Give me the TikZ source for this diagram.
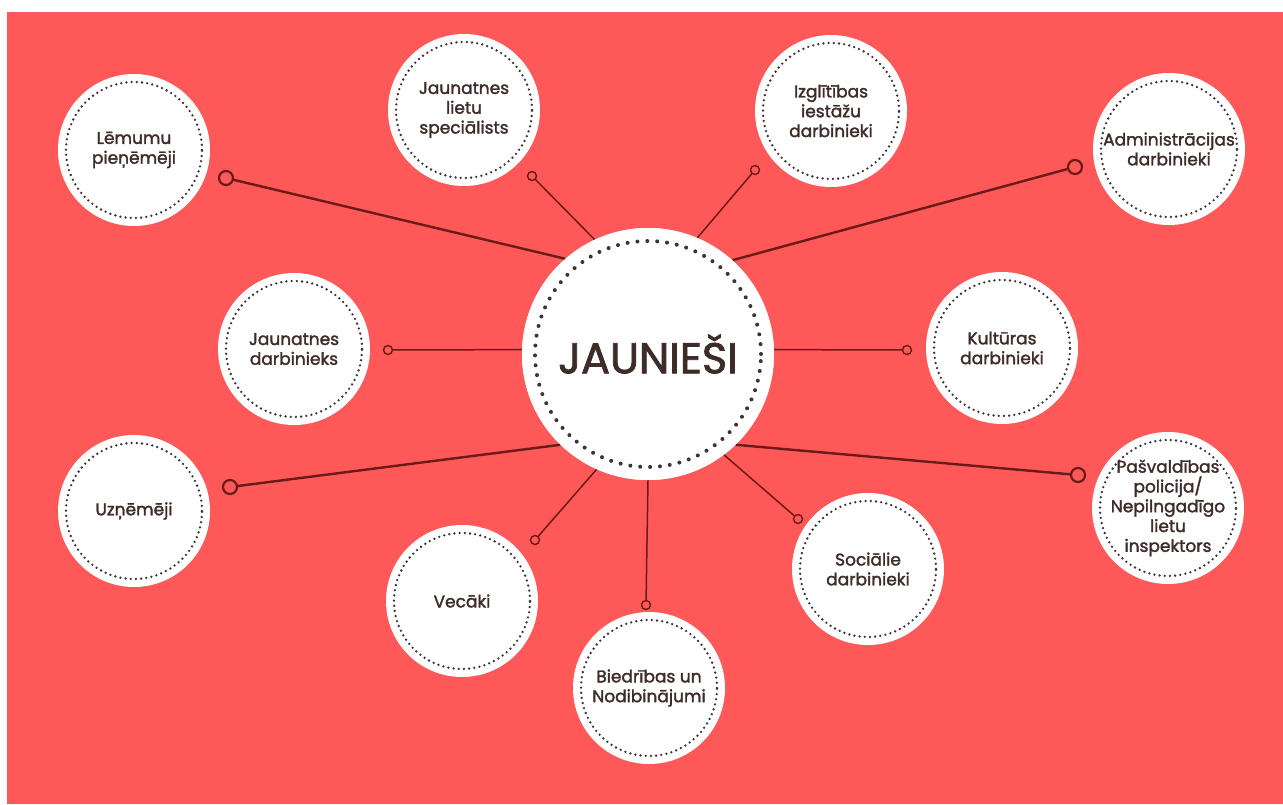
\documentclass[tikz,border=0pt]{standalone}
\usepackage{fontspec}
\newfontfamily\lbl{Poppins}[FakeBold=1.8]
\definecolor{bg}{HTML}{FF5858}
\definecolor{ln}{HTML}{6A1A18}
\definecolor{tx}{HTML}{3E2C28}
\definecolor{dotc}{HTML}{3A3434}
\tikzset{
  sat/.style={circle, fill=white, minimum size=152pt, inner sep=0pt, align=center,
    font=\lbl\fontsize{17}{19.8}\selectfont, text=tx},
  hub/.style={circle, fill=white, minimum size=252pt, inner sep=0pt,
    font=\lbl\fontsize{43}{46}\selectfont, text=tx},
  satdots/.style={dotc, line width=2.6pt, line cap=round, dash pattern=on 0pt off 5.2pt},
  hubdots/.style={dotc, line width=4pt, line cap=round, dash pattern=on 0pt off 9.9pt},
  conn/.style={draw=ln, line width=2.4pt},
  connthin/.style={draw=ln, line width=1.5pt},
  bigring/.style={circle, draw=ln, fill=bg, line width=2.2pt, minimum size=14pt, inner sep=0pt},
  smallring/.style={circle, draw=ln, fill=bg, line width=1.4pt, minimum size=9pt, inner sep=0pt},
}
\begin{document}
\begin{tikzpicture}[x=1pt,y=-1pt]
\useasboundingbox (0,0) rectangle (1283,804);
\fill[white] (0,0) rectangle (1283,804);
\fill[bg] (7,12) rectangle (1283,804);

% hub
\node[hub] (c) at (648,354) {};

% rings
\node[bigring] (r1) at (226,178) {};
\node[smallring] (r2) at (532,176) {};
\node[smallring] (r3) at (755,170) {};
\node[bigring] (r4) at (1075,167) {};
\node[smallring] (r5) at (388,350) {};
\node[smallring] (r6) at (907,350) {};
\node[bigring] (r7) at (230,487) {};
\node[smallring] (r8) at (535,540) {};
\node[smallring] (r9) at (646,605) {};
\node[smallring] (r10) at (798,519) {};
\node[bigring] (r11) at (1078,475) {};

% connectors
\draw[conn] (c.131.6) -- (r1);
\draw[connthin] (c.115) -- (r2);
\draw[connthin] (c.67) -- (r3);
\draw[conn] (c.48.4) -- (r4);
\draw[connthin] (c.178) -- (r5);
\draw[connthin] (c.2) -- (r6);
\draw[conn] (c.226.9) -- (r7);
\draw[connthin] (c.246) -- (r8);
\draw[connthin] (c.270) -- (r9);
\draw[connthin] (c.307) -- (r10);
\draw[conn] (c.314) -- (r11);

\node[hub] (hubtop) at (c) {JAUNIEŠI};
\draw[hubdots] (c) circle (113pt);

% satellites
\node[sat] (s1) at (134,150) {Lēmumu\\pieņēmēji};
\node[sat] (s2) at (464,110) {Jaunatnes\\lietu\\speciālists};
\node[sat] (s3) at (831,111) {Izglītības\\iestāžu\\darbinieki};
\node[sat] (s4) at (1169,149) {Administrācijas\\darbinieki};
\node[sat] (s5) at (294,349) {Jaunatnes\\darbinieks};
\node[sat] (s6) at (1002,348) {Kultūras\\darbinieki};
\node[sat] (s7) at (134,511) {Uzņēmēji};
\node[sat] (s8) at (462,601) {Vecāki};
\node[sat] (s9) at (649,688) {Biedrības un\\Nodibinājumi};
\node[sat] (s10) at (868,569) {Sociālie\\darbinieki};
\node[sat] (s11) at (1168,508) {Pašvaldības\\policija/\\Nepilngadīgo\\lietu\\inspektors};

\foreach \s in {s1,s2,s3,s4,s5,s6,s7,s8,s9,s10,s11}
  \draw[satdots] (\s) circle (68pt);
\end{tikzpicture}
\end{document}
